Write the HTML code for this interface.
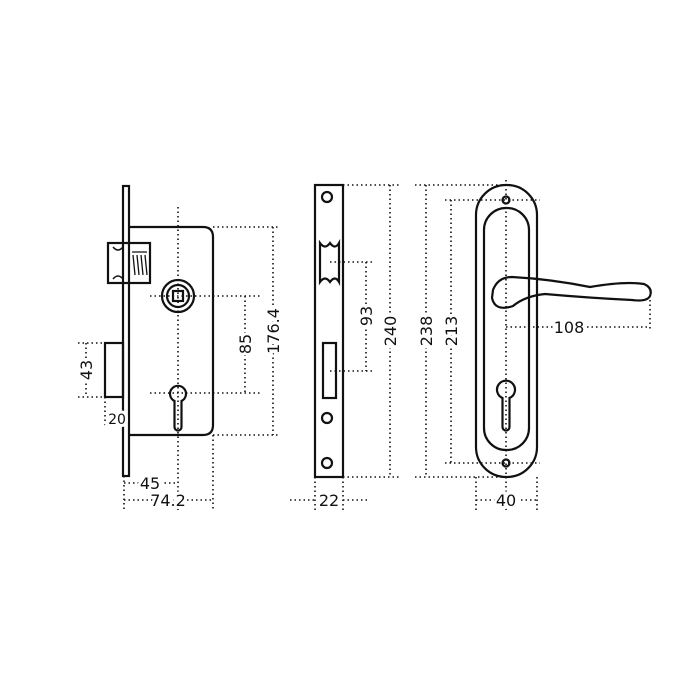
<!DOCTYPE html>
<html><head><style>body{margin:0;background:#fff}svg{display:block}text{font-family:"DejaVu Sans","Liberation Sans",sans-serif;font-size:16px;fill:#111;stroke:#fff;stroke-width:6px;paint-order:stroke}</style></head><body>
<svg width="700" height="700" viewBox="0 0 700 700" xmlns="http://www.w3.org/2000/svg">
<g fill="none" stroke="#111" stroke-width="1.6" stroke-dasharray="1.5 3">
<path d="M178 207V510M213 227H280M213 435H280M273 227V435M150 296H260M150 393H260M245 296V393M78 343H105M78 397H105M86 343V397M105 397V428M124 476V510M213 435V510M124 483H178M124 500H213"/>
<path d="M343 185H400M343 477H400M390 185V477M330 262H375M330 371H375M366 262V371M415 185H510M415 477H510M426 185V477M445 200H540M445 463H540M451 200V463M506 180V510M506 327H650M650 300V330M476 477V510M537 477V510M476 500H537M315 477V510M343 477V510M290 500H315M343 500H367"/>
</g>
<g fill="none" stroke="#111" stroke-width="2.2">
<rect x="123" y="186" width="6" height="290"/>
<path d="M129 227H203Q213 227 213 237V425Q213 435 203 435H129"/>
<rect x="108" y="243" width="42" height="40"/>
<path d="M113 247Q118 253 123 247M113 279Q118 273 123 279" stroke-width="1.5"/>
<path d="M132 252h15M133 255l2 20M137 255l2 20M141 255l2 20M145 255l2 20" stroke-width="1.3"/>
<circle cx="178" cy="296" r="16"/><circle cx="178" cy="296" r="11"/><rect x="173" y="291" width="10" height="10"/>
<path d="M174.5 427V401A8 8 0 1 1 181.5 401V427A3.5 3.5 0 0 1 174.5 427Z"/>
<rect x="105" y="343" width="18" height="54"/>
<rect x="315" y="185" width="28" height="292"/>
<circle cx="327" cy="197" r="5"/><circle cx="327" cy="418" r="5"/><circle cx="327" cy="463" r="5"/>
<path d="M320 243Q325 250 330 243Q335 250 339 243V282Q335 275 330 282Q325 275 320 282Z"/>
<rect x="323" y="343" width="13" height="55"/>
<rect x="476" y="185" width="61" height="292" rx="30"/>
<rect x="484" y="208" width="45" height="242" rx="22"/>
<circle cx="506" cy="200" r="3.5"/><circle cx="506" cy="463" r="3.5"/>
<path d="M502.5 427V398A9 9 0 1 1 509.5 398V427A3.5 3.5 0 0 1 502.5 427Z"/>
<path d="M493 290Q498 277 512 277Q550 279 590 287Q625 281 644 284Q653 288 650 296Q647 302 632 300Q590 298 545 294Q525 296 513 306Q495 312 492 298Z"/>
</g>
<g>
<text x="150" y="489" text-anchor="middle">45</text>
<text x="168" y="506" text-anchor="middle">74.2</text>
<text x="117" y="424" text-anchor="middle" style="font-size:14px">20</text>
<text x="329" y="506" text-anchor="middle">22</text>
<text x="506" y="506" text-anchor="middle">40</text>
<text x="569" y="333" text-anchor="middle">108</text>
<text transform="translate(92 370) rotate(-90)" text-anchor="middle">43</text>
<text transform="translate(251 344) rotate(-90)" text-anchor="middle">85</text>
<text transform="translate(279 331) rotate(-90)" text-anchor="middle">176.4</text>
<text transform="translate(372 316) rotate(-90)" text-anchor="middle">93</text>
<text transform="translate(396 331) rotate(-90)" text-anchor="middle">240</text>
<text transform="translate(432 331) rotate(-90)" text-anchor="middle">238</text>
<text transform="translate(457 331) rotate(-90)" text-anchor="middle">213</text>
</g>
</svg>
</body></html>
